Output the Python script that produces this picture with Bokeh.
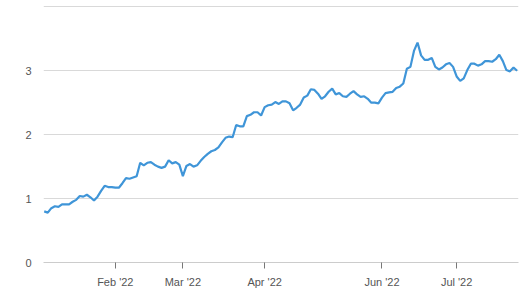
import numpy as np
import pandas as pd
from bokeh.plotting import figure
from bokeh.models import FixedTicker, Range1d
from bokeh.embed import file_html
from bokeh.resources import INLINE

# Trading days shown (ordinal axis); a short stretch around early May has no data
holidays = ["2022-01-17", "2022-02-21", "2022-04-15", "2022-05-30", "2022-06-20", "2022-07-04"]
missing = ["2022-04-29", "2022-05-02", "2022-05-03", "2022-05-04",
           "2022-05-05", "2022-05-06", "2022-05-09", "2022-05-10"]
all_days = pd.bdate_range("2022-01-03", "2022-07-27")
dates = [d for d in all_days if d.strftime("%Y-%m-%d") not in holidays + missing]

values = [
    0.80, 0.78, 0.85, 0.88, 0.87, 0.91, 0.91, 0.91, 0.95, 0.98,
    1.04, 1.03, 1.06, 1.02, 0.97, 1.03, 1.12, 1.20, 1.18, 1.18,
    1.17, 1.17, 1.24, 1.32, 1.31, 1.33, 1.35, 1.56, 1.52, 1.56,
    1.57, 1.53, 1.50, 1.48, 1.50, 1.60, 1.55, 1.57, 1.53, 1.35,
    1.51, 1.54, 1.50, 1.52, 1.59, 1.65, 1.70, 1.74, 1.76, 1.80,
    1.88, 1.95, 1.97, 1.96, 2.15, 2.13, 2.13, 2.29, 2.31, 2.35,
    2.35, 2.30, 2.43, 2.46, 2.47, 2.51, 2.48, 2.52, 2.52, 2.49,
    2.38, 2.42, 2.47, 2.58, 2.61, 2.71, 2.70, 2.64, 2.56, 2.60,
    2.67, 2.72, 2.63, 2.65, 2.60, 2.59, 2.64, 2.68, 2.63, 2.59,
    2.60, 2.56, 2.50, 2.50, 2.49, 2.58, 2.65, 2.66, 2.67, 2.73,
    2.75, 2.80, 3.03, 3.06, 3.31, 3.44, 3.24, 3.17, 3.17, 3.20,
    3.06, 3.02, 3.05, 3.10, 3.12, 3.06, 2.91, 2.84, 2.88, 3.01,
    3.11, 3.11, 3.08, 3.10, 3.15, 3.15, 3.14, 3.18, 3.25, 3.15,
    3.01, 2.99, 3.05, 3.00,
]

tick_months = ["2022-02", "2022-03", "2022-04", "2022-06", "2022-07"]
tick_labels = ["Feb '22", "Mar '22", "Apr '22", "Jun '22", "Jul '22"]
y_ticks = [0, 1, 2, 3, 4]

n = min(len(dates), len(values))
x = list(range(n))
month_of = [d.strftime("%Y-%m") for d in dates[:n]]
tick_pos = [month_of.index(m) for m in tick_months]

p = figure(width=529, height=293, output_backend="svg", toolbar_location=None,
           x_range=Range1d(-0.2, n - 1 + 0.4), y_range=Range1d(0, 4.02),
           min_border_left=43, min_border_right=11, min_border_top=5, min_border_bottom=31)
p.outline_line_color = None
p.background_fill_color = "white"
p.border_fill_color = "white"

p.line(x, values[:n], line_color="#3f95d8", line_width=2.2)

p.xaxis.ticker = FixedTicker(ticks=tick_pos)
p.xaxis.major_label_overrides = {pos: lab for pos, lab in zip(tick_pos, tick_labels)}
p.xaxis.axis_line_color = "#cccccc"
p.xaxis.major_tick_line_color = "#777777"
p.xaxis.major_tick_in = 0
p.xaxis.major_tick_out = 6
p.xaxis.minor_tick_line_color = None
p.xaxis.major_label_text_font = "Liberation Sans"
p.xaxis.major_label_text_font_size = "11px"
p.xaxis.major_label_text_color = "#555555"
p.xaxis.major_label_standoff = 7
p.xgrid.grid_line_color = None

p.yaxis.ticker = FixedTicker(ticks=y_ticks)
p.yaxis.major_label_overrides = {4: ""}
p.yaxis.axis_line_color = None
p.yaxis.major_tick_line_color = None
p.yaxis.minor_tick_line_color = None
p.yaxis.major_tick_out = 0
p.yaxis.major_tick_in = 0
p.yaxis.major_label_standoff = 12
p.yaxis.major_label_text_font = "Liberation Sans"
p.yaxis.major_label_text_font_size = "11px"
p.yaxis.major_label_text_color = "#555555"
p.ygrid.grid_line_color = "#d9d9d9"
p.ygrid.grid_line_width = 1

open("out.html", "w").write(file_html(p, INLINE))
